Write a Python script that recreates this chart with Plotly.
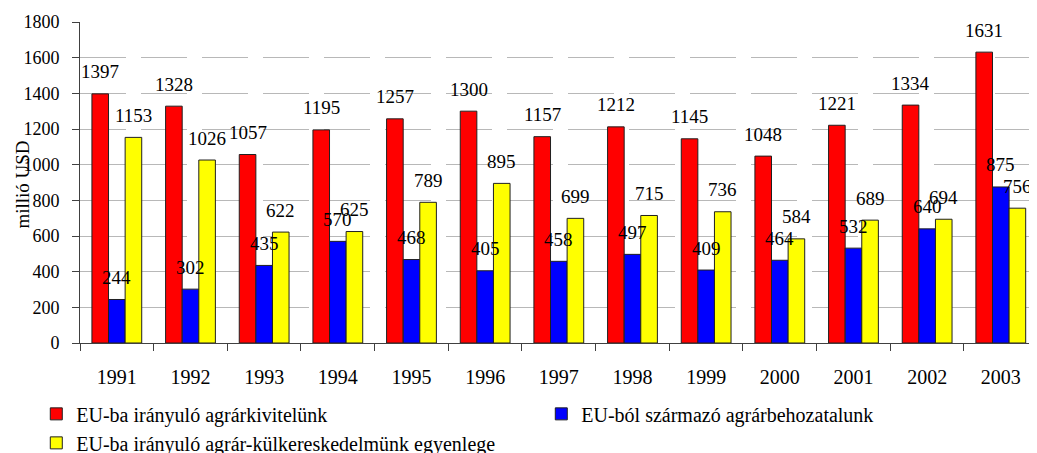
import plotly.graph_objects as go

years = ["1991", "1992", "1993", "1994", "1995", "1996", "1997",
         "1998", "1999", "2000", "2001", "2002", "2003"]
export_vals = [1397, 1328, 1057, 1195, 1257, 1300, 1157, 1212, 1145, 1048, 1221, 1334, 1631]
import_vals = [244, 302, 435, 570, 468, 405, 458, 497, 409, 464, 532, 640, 875]
balance_vals = [1153, 1026, 622, 625, 789, 895, 699, 715, 736, 584, 689, 694, 756]

series_names = ["EU-ba irányuló agrárkivitelünk",
                "EU-ból származó agrárbehozatalunk",
                "EU-ba irányuló agrár-külkereskedelmünk egyenlege"]
series_vals = [export_vals, import_vals, balance_vals]
colors = ["#FF0000", "#0000FF", "#FFFF00"]
y_title = "millió USD"

FONT = "Liberation Serif, Times New Roman, serif"
W, H = 1037, 453
ML, MR, MT, MB = 72, 0, 14, 118
BARGAP = 0.324
XMIN, XMAX = -0.5, 12.6

fig = go.Figure()
for name, vals, col in zip(series_names, series_vals, colors):
    fig.add_trace(go.Bar(
        x=years, y=vals, name=name,
        marker=dict(color=col, line=dict(color="#202020", width=1)),
    ))

# data labels centered above each bar
plot_w = W - ML - MR
cat_w = plot_w / (XMAX - XMIN)
bar_w = cat_w * (1 - BARGAP) / 3
for i, vals in enumerate(series_vals):
    for j, v in enumerate(vals):
        fig.add_annotation(
            x=j, y=v, xref="x", yref="y", text=str(v), showarrow=False,
            xshift=(i - 1) * bar_w, yshift=22,
            xanchor="center", yanchor="middle",
            font=dict(family=FONT, size=19, color="#000000"),
        )

# y-axis title
fig.add_annotation(
    x=-0.06, y=0.5, xref="paper", yref="paper", text=y_title,
    textangle=-90, showarrow=False, xanchor="center", yanchor="middle",
    yshift=-2, font=dict(family=FONT, size=19, color="#000000"),
)

fig.update_layout(
    width=W, height=H,
    margin=dict(l=ML, r=MR, t=MT, b=MB, autoexpand=False),
    paper_bgcolor="white", plot_bgcolor="white",
    barmode="group", bargap=BARGAP, bargroupgap=0,
    font=dict(family=FONT, color="#000000"),
    legend=dict(
        orientation="h", x=-0.0453, xanchor="left", y=-0.16, yanchor="top",
        entrywidth=460, entrywidthmode="pixels",
        font=dict(family=FONT, size=20, color="#000000"),
        tracegroupgap=0, itemclick=False,
    ),
    xaxis=dict(
        type="category", range=[XMIN, XMAX],
        showline=True, linecolor="#404040", linewidth=1,
        ticks="outside", tickson="boundaries", ticklen=7, tickcolor="#404040",
        tickfont=dict(family=FONT, size=20, color="#000000"),
        ticklabelstandoff=16,
        showgrid=False, zeroline=False,
    ),
    yaxis=dict(
        range=[0, 1800], dtick=200, tick0=0,
        showline=True, linecolor="#404040", linewidth=1,
        ticks="outside", ticklen=7, tickcolor="#404040",
        tickfont=dict(family=FONT, size=18, color="#000000"),
        ticksuffix="\u00a0\u00a0",
        showgrid=True, gridcolor="#b8b8b8", gridwidth=1, griddash="46px,15px",
        zeroline=False,
    ),
)

fig.write_html("out.html")
